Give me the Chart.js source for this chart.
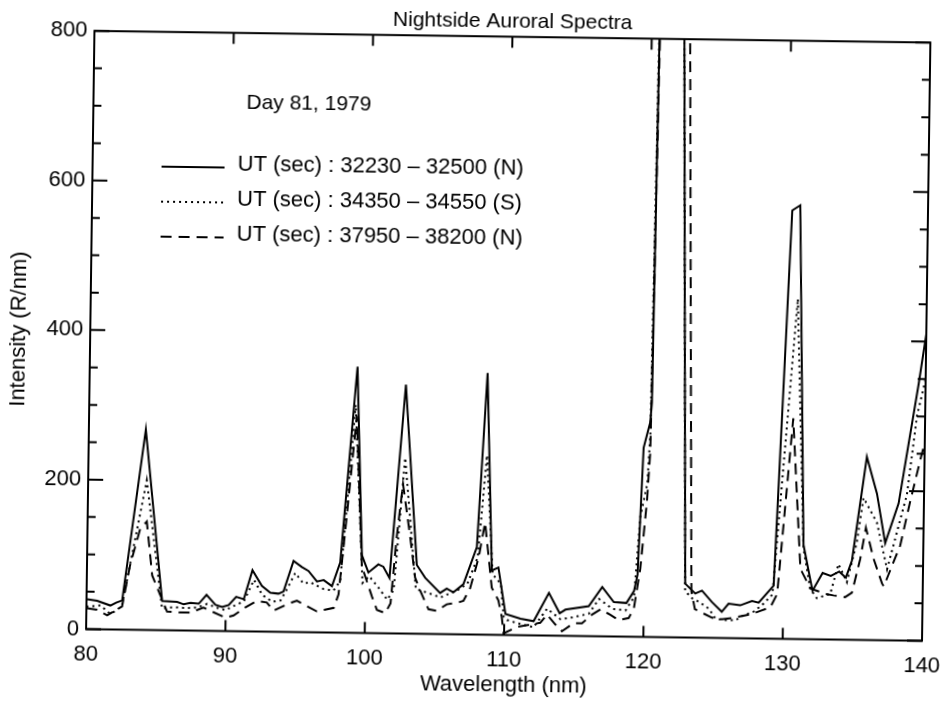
<!DOCTYPE html>
<html>
<head>
<meta charset="utf-8">
<script src="https://cdn.jsdelivr.net/npm/chart.js@4.4.1/dist/chart.umd.min.js"></script>
<style>
    html, body { margin: 0; padding: 0; background: #fff; overflow: hidden; }
    #wrap { width: 945px; height: 704px; transform: rotate(0.8deg); }
</style>
</head>
<body>
<div id="wrap"><canvas id="spectra" width="945" height="704"></canvas></div>
<script>
// UT 32230 - 32500 (N)
var solidWl = [80.0, 80.77, 81.72, 82.13, 82.56, 84.09, 85.43, 86.51, 86.98, 87.47, 88.06, 88.61, 89.26, 89.74, 90.21, 90.74, 91.29, 91.88, 92.57, 93.18, 93.77, 94.13, 94.82, 95.42, 95.9, 96.52, 97.0, 97.6, 98.17, 99.22, 99.72, 100.2, 100.91, 101.27, 101.72, 102.71, 103.67, 104.28, 105.37, 105.84, 106.32, 107.03, 107.96, 108.56, 109.06, 109.53, 110.08, 111.16, 112.11, 113.18, 113.97, 114.38, 116.05, 117.0, 117.84, 118.75, 119.28, 119.52, 119.83, 120.28, 120.38, 120.85, 121.8, 122.1, 122.95, 123.68, 124.16, 124.88, 125.6, 126.08, 126.92, 127.76, 128.24, 129.3, 130.26, 130.83, 131.4, 132.09, 132.8, 133.39, 133.99, 134.47, 134.89, 135.86, 136.62, 137.26, 138.18, 139.5, 140.0];
var solidVal = [40, 38, 32, 36, 39, 268, 39, 38, 35, 37, 36, 48, 35, 32, 35, 46, 43, 82, 61, 52, 51, 54, 95, 87, 82, 68, 70, 62, 94, 356, 104, 81, 92, 89, 74, 333, 92, 75, 55, 61, 56, 67, 117, 350, 86, 90, 28, 22, 19, 57, 30, 35, 40, 66, 46, 45, 61, 83, 253, 287, 314, 1600, 1600, 1100, 72, 59, 63, 48, 35, 46, 44, 50, 48, 71, 573, 580, 126, 65, 89, 85, 91, 83, 106, 245, 196, 130, 183, 343, 410];

// UT 34350 - 34550 (S)
var dottedWl = [80.0, 81.0, 81.72, 82.2, 82.56, 84.21, 85.43, 86.27, 87.23, 87.95, 88.66, 89.38, 89.98, 90.7, 91.29, 92.0, 92.61, 93.33, 93.93, 94.48, 94.95, 95.55, 96.03, 97.0, 97.71, 98.19, 99.13, 99.79, 100.26, 100.9, 101.58, 102.03, 102.73, 103.62, 104.45, 105.41, 106.0, 106.61, 107.32, 108.03, 108.6, 109.12, 109.72, 109.96, 110.2, 111.16, 112.11, 113.07, 114.03, 114.98, 116.06, 116.78, 117.74, 118.69, 119.29, 119.66, 120.13, 120.3, 120.9, 121.8, 122.1, 122.95, 123.5, 123.95, 124.67, 125.15, 125.75, 126.59, 127.18, 127.9, 128.5, 129.22, 130.75, 131.4, 131.92, 132.41, 133.37, 133.93, 134.55, 135.23, 135.66, 136.65, 137.42, 138.77, 139.42, 140.0];
var dottedVal = [30, 32, 21, 26, 33, 200, 29, 31, 30, 31, 36, 31, 28, 35, 40, 69, 49, 40, 42, 61, 79, 65, 67, 58, 56, 69, 305, 67, 76, 62, 45, 58, 235, 60, 55, 49, 54, 59, 68, 103, 240, 81, 68, 24, 20, 15, 11, 36, 22, 25, 30, 50, 37, 35, 53, 160, 205, 272, 1600, 1600, 1100, 62, 52, 48, 39, 26, 24, 24, 31, 36, 45, 59, 455, 121, 68, 55, 61, 101, 77, 131, 190, 157, 95, 195, 301, 350];

// UT 37950 - 38200 (N)
var dashedWl = [80.0, 80.77, 81.5, 82.56, 83.09, 83.78, 84.25, 84.69, 85.79, 86.75, 87.47, 88.4, 89.0, 89.98, 90.57, 91.4, 92.22, 92.94, 93.43, 94.39, 95.1, 95.82, 96.54, 97.75, 98.08, 98.6, 99.22, 99.73, 100.48, 100.85, 101.45, 101.82, 102.2, 102.6, 103.17, 103.56, 103.93, 104.55, 105.15, 105.86, 106.58, 107.05, 107.52, 108.09, 108.53, 109.07, 109.56, 109.82, 109.96, 110.91, 112.59, 113.07, 113.67, 114.15, 114.98, 115.58, 116.3, 116.9, 117.61, 118.21, 118.93, 119.29, 119.71, 120.12, 120.31, 121.0, 121.8, 122.5, 123.4, 123.67, 124.9, 125.62, 126.34, 127.65, 128.36, 129.08, 129.56, 130.54, 131.2, 131.93, 133.0, 133.6, 134.44, 134.92, 135.48, 135.86, 136.44, 137.07, 137.2, 138.34, 139.0, 139.71, 140.0];
var dashedVal = [28, 26, 19, 31, 86, 135, 145, 73, 25, 24, 24, 31, 26, 18, 21, 32, 41, 39, 28, 37, 42, 35, 28, 33, 51, 157, 290, 89, 49, 31, 27, 40, 129, 200, 129, 75, 58, 33, 31, 40, 42, 45, 62, 102, 150, 63, 46, 24, 2, 11, 17, 28, 15, 6, 17, 17, 29, 36, 29, 22, 25, 38, 91, 181, 247, 1600, 1600, 1100, 62, 38, 27, 25, 27, 32, 37, 42, 60, 295, 94, 68, 61, 59, 57, 63, 108, 150, 109, 76, 72, 127, 185, 243, 265];

var seriesLabels = ['UT (sec) : 32230 \u2013 32500 (N)', 'UT (sec) : 34350 \u2013 34550 (S)', 'UT (sec) : 37950 \u2013 38200 (N)'];
var noteText = 'Day 81, 1979';

var xRange = [80, 140];
var yRange = [0, 800];
var xStep = 10;
var yStep = 200;
var yMinorStep = 50;

Chart.defaults.font.family = '"Liberation Sans", Arial, sans-serif';
Chart.defaults.color = '#000';

function toPoints(wl, val) {
    let pts = [];
    for (let i = 0; i < wl.length; i++) {
        pts.push({x: wl[i], y: val[i]});
    }
    return pts;
}

// box around the plot with inward ticks on all four sides
var framePlugin = {
    id: 'frame',
    afterDatasetsDraw(chart) {
        let ctx = chart.ctx;
        let a = chart.chartArea;
        let xs = chart.scales.x;
        let ys = chart.scales.y;
        ctx.save();
        ctx.strokeStyle = '#000';
        ctx.lineWidth = 2;
        ctx.strokeRect(a.left, a.top, a.right - a.left, a.bottom - a.top);
        ctx.beginPath();
        for (let v = yRange[0]; v <= yRange[1]; v += yMinorStep) {
            let py = ys.getPixelForValue(v);
            let len = (v % yStep == 0) ? 15 : 8;
            ctx.moveTo(a.left, py);
            ctx.lineTo(a.left + len, py);
            ctx.moveTo(a.right, py);
            ctx.lineTo(a.right - len, py);
        }
        for (let w = xRange[0]; w <= xRange[1]; w += xStep) {
            let px = xs.getPixelForValue(w);
            ctx.moveTo(px, a.bottom);
            ctx.lineTo(px, a.bottom - 11);
            ctx.moveTo(px, a.top);
            ctx.lineTo(px, a.top + 11);
        }
        ctx.stroke();
        ctx.restore();
    }
};

// date note and the line-style key
var notePlugin = {
    id: 'note',
    afterDraw(chart) {
        let ctx = chart.ctx;
        ctx.save();
        ctx.fillStyle = '#000';
        ctx.textBaseline = 'middle';
        ctx.font = '21px "Liberation Sans", Arial, sans-serif';
        ctx.fillText(noteText, 243, 106);
        ctx.font = '22px "Liberation Sans", Arial, sans-serif';
        let sets = chart.data.datasets;
        for (let i = 0; i < sets.length; i++) {
            let ty = 168 + i * 35;
            ctx.beginPath();
            ctx.lineWidth = 2;
            ctx.setLineDash(sets[i].borderDash || []);
            ctx.moveTo(159, ty + 3);
            ctx.lineTo(222, ty + 3);
            ctx.stroke();
            ctx.setLineDash([]);
            ctx.fillText(sets[i].label, 235, ty);
        }
        ctx.restore();
    }
};

var ctx = document.getElementById('spectra').getContext('2d');
var spectraChart = new Chart(ctx, {
    type: 'line',
    data: {
        datasets: [{
            label: seriesLabels[0],
            data: toPoints(solidWl, solidVal),
            borderColor: '#000',
            borderWidth: 2,
            pointRadius: 0
        }, {
            label: seriesLabels[1],
            data: toPoints(dottedWl, dottedVal),
            borderColor: '#000',
            borderWidth: 2,
            borderDash: [2, 4],
            pointRadius: 0
        }, {
            label: seriesLabels[2],
            data: toPoints(dashedWl, dashedVal),
            borderColor: '#000',
            borderWidth: 2,
            borderDash: [11, 7],
            pointRadius: 0
        }]
    },
    options: {
        responsive: false,
        animation: false,
        devicePixelRatio: 1,
        layout: { padding: { left: 0, right: 19, top: 0, bottom: 0 } },
        plugins: {
            legend: { display: false },
            tooltip: { enabled: false },
            title: {
                display: true,
                fullSize: false,
                text: 'Nightside Auroral Spectra',
                font: { size: 21, weight: 'normal' },
                color: '#000',
                padding: { top: 9, bottom: 2 }
            }
        },
        scales: {
            x: {
                type: 'linear',
                min: xRange[0],
                max: xRange[1],
                grid: { display: false, drawTicks: false },
                border: { display: false },
                ticks: { stepSize: xStep, font: { size: 22 }, padding: 12, maxRotation: 0 },
                title: { display: true, text: 'Wavelength (nm)', font: { size: 22 }, padding: { top: 0, bottom: 6 } },
                afterFit(scale) {
                    scale.height = 69.5;
                    scale.paddingLeft = 0;
                    scale.paddingRight = 0;
                }
            },
            y: {
                min: yRange[0],
                max: yRange[1],
                grid: { display: false, drawTicks: false },
                border: { display: false },
                ticks: { stepSize: yStep, font: { size: 22 }, padding: 7 },
                title: { display: true, text: 'Intensity (R/nm)', font: { size: 22 }, padding: { top: 6, bottom: 0 } },
                afterFit(scale) { scale.width = 90; }
            }
        }
    },
    plugins: [framePlugin, notePlugin]
});
</script>
</body>
</html>
